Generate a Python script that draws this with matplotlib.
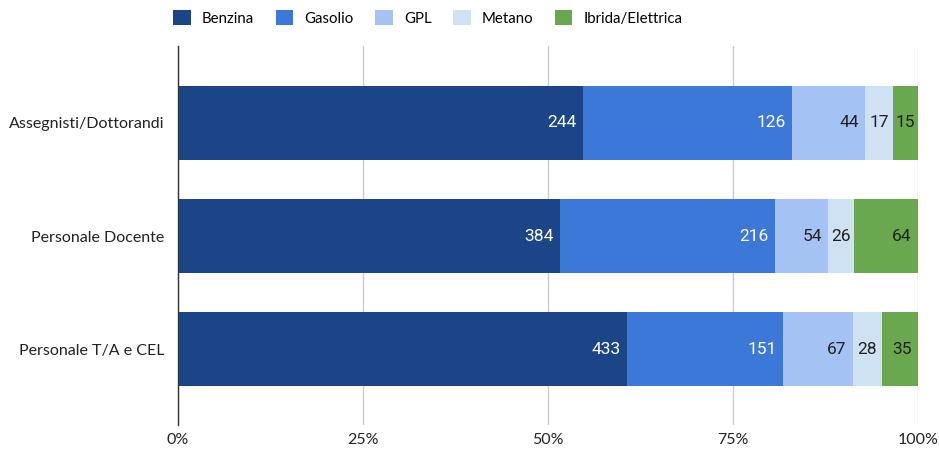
import matplotlib
matplotlib.use("Agg")
import matplotlib.pyplot as plt
import numpy as np
from matplotlib.patches import Patch

categories = ["Assegnisti/Dottorandi", "Personale Docente", "Personale T/A e CEL"]
series = ["Benzina", "Gasolio", "GPL", "Metano", "Ibrida/Elettrica"]
benzina = [244, 384, 433]
gasolio = [126, 216, 151]
gpl = [44, 54, 67]
metano = [17, 26, 28]
ibrida = [15, 64, 35]
xtick_labels = ["0%", "25%", "50%", "75%", "100%"]

colors = ["#1c4587", "#3c78d8", "#a4c2f4", "#cfe2f3", "#6aa84f"]
label_colors = ["white", "white", "#222222", "#222222", "#222222"]

values = np.array([benzina, gasolio, gpl, metano, ibrida], dtype=float)
totals = values.sum(axis=0)
fracs = values / totals

W, H = 939, 451
fig = plt.figure(figsize=(W / 100, H / 100), dpi=100)
ax = fig.add_axes([178 / W, (H - 425) / H, 740 / W, 379 / H])

y = np.arange(len(categories))
left = np.zeros(len(categories))
axw_px = 740
for i, name in enumerate(series):
    ax.barh(y, fracs[i], left=left, height=0.65, color=colors[i], label=name,
            edgecolor="none", zorder=3)
    for j in range(len(categories)):
        seg_px = fracs[i][j] * axw_px
        txt = f"{int(values[i][j])}"
        if seg_px < 34:
            ax.text(left[j] + fracs[i][j] / 2, y[j], txt, ha="center", va="center",
                    color=label_colors[i], fontsize=12.5, family="Roboto", zorder=4)
        else:
            ax.annotate(txt, (left[j] + fracs[i][j], y[j]), xytext=(-4.5, 0),
                        textcoords="offset points", ha="right", va="center",
                        color=label_colors[i], fontsize=12.5, family="Roboto", zorder=4)
    left += fracs[i]

ax.set_xlim(0, 1)
ax.set_ylim(2.67, -0.68)
ax.set_xticks([0, 0.25, 0.5, 0.75, 1.0])
ax.set_xticklabels(xtick_labels, family="Lato", fontsize=11.5, color="#222222")
ax.set_yticks(y)
ax.set_yticklabels(categories, family="Lato", fontsize=11.5, color="#222222")
ax.tick_params(axis="both", length=0)
ax.tick_params(axis="x", pad=6)
ax.tick_params(axis="y", pad=10)
ax.grid(axis="x", color="#cccccc", linewidth=1, zorder=0)
for s in ["top", "right", "bottom"]:
    ax.spines[s].set_visible(False)
ax.spines["left"].set_color("#333333")
ax.spines["left"].set_linewidth(1)
ax.spines["left"].set_zorder(5)

handles = [Patch(facecolor=c, edgecolor="none") for c in colors]
fig.legend(handles, series, loc="center", bbox_to_anchor=(428 / W, 1 - 18 / H),
           ncol=5, frameon=False, prop={"family": "Lato", "size": 10.8},
           handlelength=1.15, handleheight=1.15, handletextpad=0.75, columnspacing=1.45)

fig.savefig("out.png", dpi=100)
